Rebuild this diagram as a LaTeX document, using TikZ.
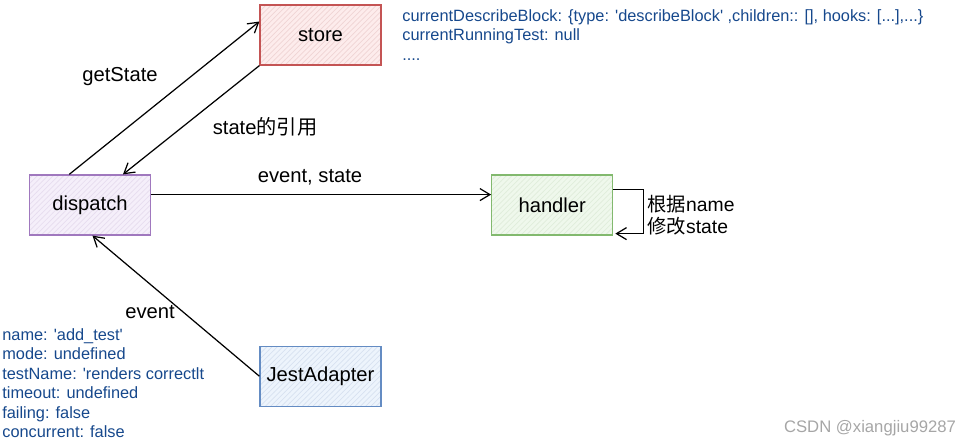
\documentclass[tikz,border=0pt]{standalone}
\usepackage{fontspec}
\setmainfont{Liberation Sans}
\newfontfamily\cjk{Noto Sans CJK SC}
\usetikzlibrary{positioning,calc,arrows.meta,patterns}
\definecolor{storeline}{RGB}{196,84,84}
\definecolor{storefill}{RGB}{253,236,236}
\definecolor{displine}{RGB}{160,120,190}
\definecolor{dispfill}{RGB}{245,239,250}
\definecolor{handline}{RGB}{130,185,110}
\definecolor{handfill}{RGB}{239,248,236}
\definecolor{jestline}{RGB}{100,140,195}
\definecolor{jestfill}{RGB}{237,244,252}
\definecolor{infotext}{RGB}{22,72,140}

\begin{document}
\begin{tikzpicture}[
    node distance=0.4cm,
    every node/.style={font=\fontsize{11.5}{14}\selectfont},
    box/.style={
        draw,
        line width=0.7pt,
        minimum width=2.42cm,
        minimum height=1.2cm,
        pattern=north east lines
    },
    flow/.style={-{Straight Barb[length=2mm,width=2.4mm]},line width=0.7pt},
    info/.style={
        text=infotext,
        align=left,
        inner sep=0pt,
        font=\fontsize{9.3}{11.1}\selectfont
    }
]
\useasboundingbox (0,0) rectangle (19.2,-8.9);
\node[box, draw=storeline, pattern color=storeline!25, preaction={fill=storefill}] (store) at (6.41,-0.7) {store};
\node[box, draw=displine, pattern color=displine!25, preaction={fill=dispfill}] (dispatch) at (1.8,-4.1) {dispatch};
\node[box, draw=handline, pattern color=handline!25, preaction={fill=handfill}, right=6.8cm of dispatch] (handler) {handler};
\node[box, draw=jestline, pattern color=jestline!25, preaction={fill=jestfill}, below=5.6cm of store] (jest) {JestAdapter};

\node[info, anchor=north west] (storeinfo) at (8.04,-0.18)
{currentDescribeBlock: \{type: \textquotesingle describeBlock\textquotesingle\ ,children:: [], hooks: [...],...\}\\
currentRunningTest: null\\
....};
\node[info, anchor=north west] (eventinfo) at (0.04,-6.56)
{name: \textquotesingle add\_test\textquotesingle\\
mode: undefined\\
testName: \textquotesingle renders correctlt\\
timeout: undefined\\
failing: false\\
concurrent: false};

\draw[flow] ($(dispatch.north west)!0.33!(dispatch.north east)$) -- ($(store.north west)!0.28!(store.south west)$);
\draw[flow] (store.south west) -- ($(dispatch.north west)!0.77!(dispatch.north east)$);
\draw[flow] ($(dispatch.north east)!0.33!(dispatch.south east)$) -- ($(handler.north west)!0.33!(handler.south west)$);
\draw[flow] ($(handler.north east)!0.25!(handler.south east)$) -- ++(0.6,0) |- ($(handler.south east)+(0.04,0.04)$);
\draw[flow] (jest.west) -- ($(dispatch.south west)!0.52!(dispatch.south east)$);

\node (getstate) at (2.4,-1.54) {getState};
\node (stateref) at (5.3,-2.54) {state{\cjk 的引用}};
\node (evstate) at (6.2,-3.54) {event, state};
\node[align=left, font=\fontsize{11}{12.5}\selectfont] (modify) at (13.82,-4.3) {{\cjk 根据}name\\{\cjk 修改}state};
\node (evlabel) at (3.0,-6.24) {event};
\node[text=gray!70, font=\fontsize{9.5}{11}\selectfont] (mark) at (17.4,-8.56) {CSDN @xiangjiu99287};
\end{tikzpicture}
\end{document}
